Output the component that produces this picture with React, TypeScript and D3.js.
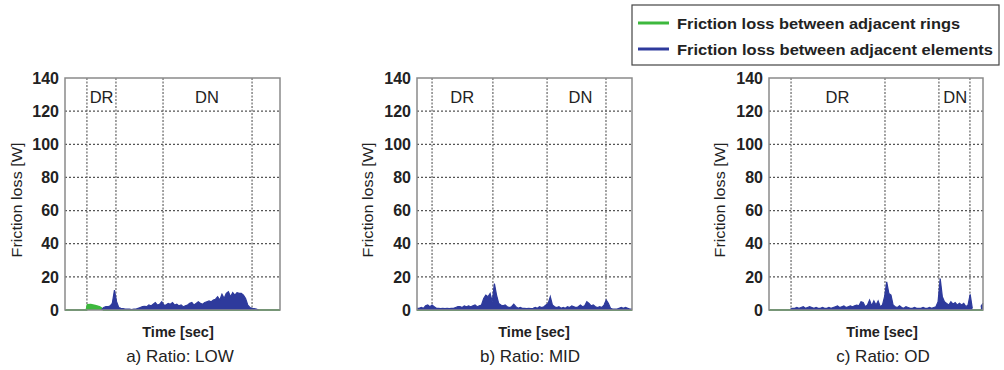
import React from "react";
import * as d3 from "d3";

// ---------- DATA ----------
const yTicks = [0, 20, 40, 60, 80, 100, 120, 140];
const panelTitles = ["a) Ratio: LOW", "b) Ratio: MID", "c) Ratio: OD"];
const phaseLabels = ["DR", "DN"];
const legendLabels = ["Friction loss between adjacent rings", "Friction loss between adjacent elements"];

// event (dashed vertical) times, time axis 0..100
const eventsA = [10.2, 23.7, 45.6, 87];
const eventsB = [7, 35.3, 60.5, 87.9];
const eventsC = [10.3, 54.2, 79.4, 93.9];
// phase label positions
const phaseA = [17, 66];
const phaseB = [21, 76];
const phaseC = [32, 87];

// Panel a
const greenA_t = [0, 10, 10.5, 12, 14, 16, 17.5, 18, 100];
const greenA_v = [0, 0, 3, 3.2, 2.6, 1.8, 0.6, 0, 0];
const blueA_start = 17;
const blueA = [0, 1.5, 2, 2, 2.5, 4, 12, 5, 1.5, 1, 0.8, 0.5, 0.5, 0.5, 0.3, 0.5, 0.5, 1, 1.5, 2,
  2.2, 2, 3, 2.5, 3.5, 4.5, 3, 3.5, 5, 3, 3, 4, 3.5, 4.5, 3, 3.5, 2.5, 3, 2, 2.5,
  3, 4, 4.5, 3, 4, 5, 4, 3.5, 4.5, 5, 5.5, 5, 6, 6.5, 8, 6, 9.5, 7, 10, 11,
  8, 10.5, 9, 10.5, 10, 10, 9, 7, 3, 1.5, 1, 0.8, 0.5, 0];

// Panel b
const greenB_t = [0, 100];
const greenB_v = [0, 0];
const blueB_start = 0;
const blueB = [1, 1, 1.5, 1, 2.5, 3, 2, 3, 2, 1, 1, 0.8, 1, 0.8, 1, 0.8, 1, 1, 1.5, 2,
  2, 1.5, 2.5, 2, 2.5, 2, 2.5, 3, 2, 2.5, 3, 7, 9, 8, 10, 5, 16, 9, 4, 3,
  2.5, 3, 2, 1.5, 2, 3.5, 2, 1, 1.5, 1, 1, 0.8, 1, 0.8, 1, 1.5, 1, 2, 1.5, 2,
  3, 4, 8, 3, 2, 1.5, 2, 1, 1.5, 1, 2, 1.5, 2.5, 2, 1.5, 2, 3, 2, 2.5, 5,
  4, 2.5, 3, 2, 1.5, 2, 1.5, 3, 6, 4, 1, 0.5, 0.5, 0.5, 1, 1.5, 1, 1.5, 1, 0.5, 0.5];

// Panel c
const greenC_t = [0, 100];
const greenC_v = [0, 0];
const blueC_start = 10;
const blueC = [0.5, 1, 1, 1.5, 1, 1.5, 2, 1, 1.5, 2, 1.5, 1, 1.5, 1, 1, 1.5, 1, 1, 1.5, 1,
  1.5, 2, 2.5, 1.5, 2, 2.5, 1.5, 2, 2.5, 2, 2.5, 3, 2.5, 5, 4.5, 2, 3, 6, 2.5, 5.5,
  3, 5.5, 2, 3, 8, 17, 10, 9, 3, 2, 1.5, 2.5, 1.5, 1, 2, 1.5, 1, 1, 1.5, 1,
  1, 1, 1.5, 1, 1, 1.5, 1, 1.5, 2, 5, 19, 8, 5, 4, 3, 5, 3.5, 4.5, 3, 4,
  3, 4, 2, 3, 9.5, 1];
const blueC2_start = 99;
const blueC2 = [2, 4];

// ---------- LAYOUT ----------
const GREEN = "#3db83d";
const BLUE = "#2e3a9c";
const FONT = "'Liberation Sans', Arial, sans-serif";
const plotTop = 78;
const plotBottom = 310;

type Series = { t: number[]; v: number[] };
const toSeries = (start: number, vals: number[]): Series => ({ t: vals.map((_, i) => start + i), v: vals });

const panels = [
  { left: 65, right: 280, titleX: 180, timeX: 178, yTitleX: 17, events: eventsA, phase: phaseA,
    green: { t: greenA_t, v: greenA_v }, blue: [toSeries(blueA_start, blueA)] },
  { left: 417, right: 632, titleX: 530, timeX: 534, yTitleX: 368, events: eventsB, phase: phaseB,
    green: { t: greenB_t, v: greenB_v }, blue: [toSeries(blueB_start, blueB)] },
  { left: 769, right: 983, titleX: 883, timeX: 882, yTitleX: 720, events: eventsC, phase: phaseC,
    green: { t: greenC_t, v: greenC_v }, blue: [toSeries(blueC_start, blueC), toSeries(blueC2_start, blueC2)] },
];

function Panel({ p, idx }: { p: (typeof panels)[number]; idx: number }) {
  const x = d3.scaleLinear().domain([0, 100]).range([p.left, p.right]);
  const y = d3.scaleLinear().domain([0, 140]).range([plotBottom, plotTop]);
  const area = (s: Series) =>
    d3.area<number>().x((_, i) => x(s.t[i])).y0(y(0)).y1((d) => y(d))(s.v) || "";
  const line = (s: Series) =>
    d3.line<number>().x((_, i) => x(s.t[i])).y((d) => y(d))(s.v) || "";
  return (
    <g>
      <rect x={p.left} y={plotTop} width={p.right - p.left} height={plotBottom - plotTop} fill="#fff" />
      {yTicks.slice(1, -1).map((t) => (
        <line key={t} x1={p.left} x2={p.right} y1={y(t)} y2={y(t)} stroke="#555" strokeWidth={1.2} strokeDasharray="2,2" />
      ))}
      {p.events.map((e) => (
        <line key={e} x1={x(e)} x2={x(e)} y1={plotTop} y2={plotBottom} stroke="#666" strokeWidth={1.2} strokeDasharray="2,1.5" />
      ))}
      <path d={area(p.green)} fill={GREEN} />
      <path d={line(p.green)} fill="none" stroke={GREEN} strokeWidth={2} />
      {p.blue.map((s, i) => (
        <g key={i}>
          <path d={area(s)} fill={BLUE} />
          <path d={line(s)} fill="none" stroke={BLUE} strokeWidth={1.2} />
        </g>
      ))}
      <rect x={p.left} y={plotTop} width={p.right - p.left} height={plotBottom - plotTop} fill="none" stroke="#8a8a8a" strokeWidth={1.5} />
      {yTicks.map((t) => (
        <text key={t} x={p.left - 6} y={y(t)} dy="0.36em" textAnchor="end" fontSize={16} fontWeight="bold" fill="#222" fontFamily={FONT}>
          {t}
        </text>
      ))}
      {phaseLabels.map((l, i) => (
        <text key={l} x={x(p.phase[i])} y={103} textAnchor="middle" fontSize={16.5} fill="#222" fontFamily={FONT}>
          {l}
        </text>
      ))}
      <text transform={`translate(${p.yTitleX},${(plotTop + plotBottom) / 2 + 6}) rotate(-90)`} textAnchor="middle" dy="0.35em" fontSize={15} textLength={115} lengthAdjust="spacingAndGlyphs" fill="#222" fontFamily={FONT}>
        Friction loss [W]
      </text>
      <text x={p.timeX} y={337} textAnchor="middle" fontSize={14.5} fontWeight="bold" fill="#222" fontFamily={FONT}>
        Time [sec]
      </text>
      <text x={p.titleX} y={362} textAnchor="middle" fontSize={17} fill="#222" fontFamily={FONT}>
        {panelTitles[idx]}
      </text>
    </g>
  );
}

export default function App() {
  return (
    <svg width={1004} height={370} style={{ position: "absolute", left: 0, top: 0, background: "#fff" }}>
      {panels.map((p, i) => (
        <Panel key={i} p={p} idx={i} />
      ))}
      <g>
        <rect x={632} y={5} width={367} height={60} fill="#fff" stroke="#444" strokeWidth={1.2} />
        {legendLabels.map((l, i) => (
          <g key={l}>
            <line x1={638} x2={669} y1={23 + i * 26} y2={23 + i * 26} stroke={i === 0 ? GREEN : BLUE} strokeWidth={3} />
            <text x={677} y={23 + i * 26} dy="0.36em" fontSize={15.5} fontWeight="bold" textLength={i === 0 ? 283 : 316} lengthAdjust="spacingAndGlyphs" fill="#222" fontFamily={FONT}>
              {l}
            </text>
          </g>
        ))}
      </g>
    </svg>
  );
}
